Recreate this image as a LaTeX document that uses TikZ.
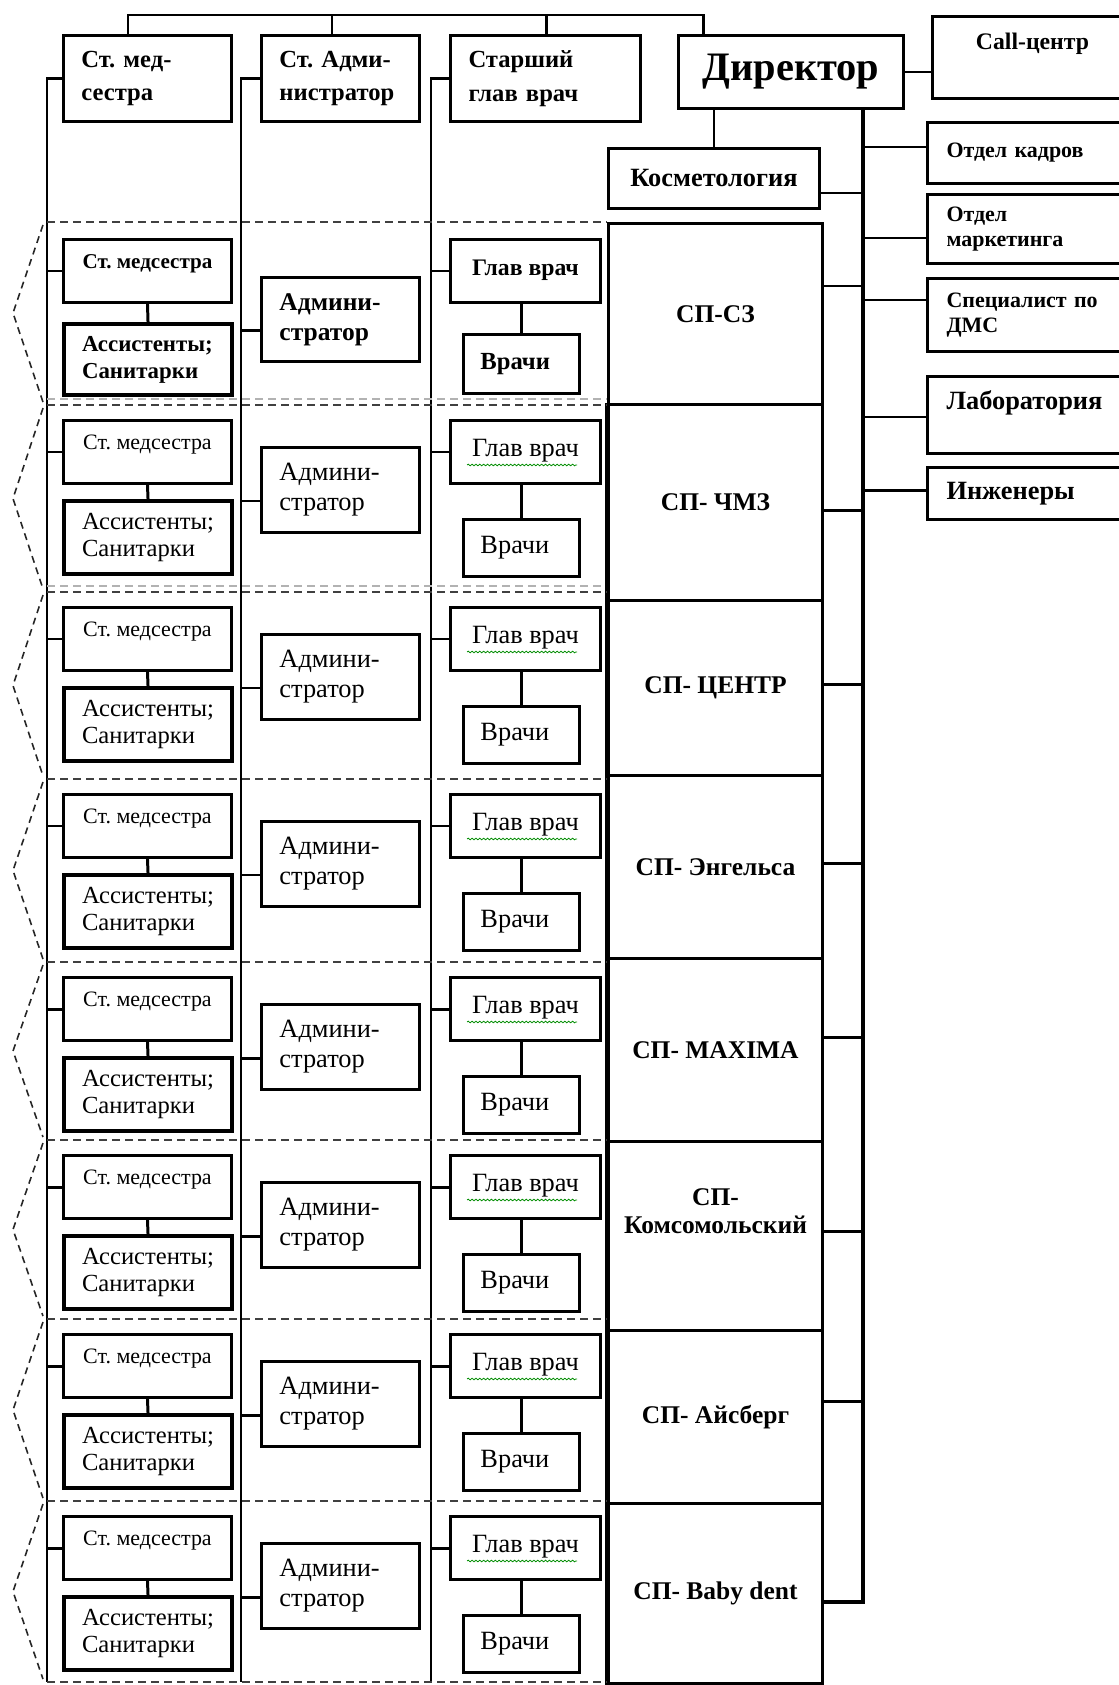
\documentclass[tikz,border=0pt]{standalone}
\usepackage{fontspec}
\setmainfont{Liberation Serif}
\usetikzlibrary{decorations.pathmorphing}
\frenchspacing

\newdimen\pxl
\pxl=0.2mm

\begin{document}
\begin{tikzpicture}[
x=0.2mm, y=-0.2mm,
box/.style={draw, line width=1.7pt, anchor=north west, inner sep=0pt},
topbox/.style={box, align=left, inner xsep=18\pxl, minimum height=86\pxl,
  font=\fontsize{14}{19}\selectfont\bfseries},
medbox/.style={box, minimum width=168\pxl, text height=29\pxl, text depth=34\pxl,
  font=\fontsize{12.5}{14}\selectfont},
asbox/.style={box, line width=2.3pt, align=left, text width=132\pxl, inner xsep=18\pxl,
  minimum height=73\pxl, font=\fontsize{14}{15.5}\selectfont},
admbox/.style={box, align=left, text width=122\pxl, inner xsep=18\pxl,
  minimum height=85\pxl, font=\fontsize{15}{17}\selectfont},
glbox/.style={box, minimum width=150\pxl, text height=36\pxl, text depth=27\pxl,
  font=\fontsize{15}{17}\selectfont},
vrbox/.style={box, align=left, text width=82\pxl, inner xsep=17\pxl,
  minimum height=57\pxl, font=\fontsize{15}{17}\selectfont},
spbox/.style={box, minimum width=214\pxl, align=center,
  font=\fontsize{14.5}{16}\selectfont\bfseries},
rbox/.style={box, align=left, text width=162\pxl, inner xsep=19\pxl,
  font=\fontsize{12.5}{14}\selectfont\bfseries},
link/.style={line width=1.7pt},
bus/.style={line width=2.2pt},
sep/.style={dash pattern=on 1.6mm off 1mm, line width=0.8pt, black!75},
seplight/.style={sep, black!30},
zig/.style={dash pattern=on 1.4mm off 1mm, line width=0.9pt, black!85},
spell/.style={draw=green!55!black, line width=0.45pt, decorate,
  decoration={snake, amplitude=0.45pt, segment length=2.2pt}}
]
\path[use as bounding box, clip] (0,0) rectangle (1119,1685);

% head of the chart
\node[topbox, text width=132\pxl] (smed) at (62,34) {Ст. мед-\\сестра};
\node[topbox, text width=122\pxl] (sadm) at (260,34) {Ст. Адми-\\нистратор};
\node[topbox, text width=154\pxl] (sglav) at (449,34) {Старший\\глав врач};
\node[box, minimum width=225\pxl, minimum height=73\pxl,
  font=\fontsize{23}{26}\selectfont\bfseries] (dir) at (677,34) {Директор};
\node[box, minimum width=200\pxl, text height=33\pxl, text depth=49\pxl,
  font=\fontsize{13.5}{15}\selectfont\bfseries] (call) at (931,15) {Call-центр};
\node[box, minimum width=211\pxl, minimum height=60\pxl,
  font=\fontsize{15}{17}\selectfont\bfseries] (kosm) at (607,147) {Косметология};

% departments on the right
\node[rbox, minimum height=61\pxl] (kadr) at (926,121) {Отдел кадров};
\node[rbox, minimum height=69\pxl] (mark) at (926,193) {Отдел\\маркетинга};
\node[rbox, minimum height=73\pxl] (dms) at (926,277) {Специалист по\\ДМС};
\node[rbox, text height=33\pxl, text depth=44\pxl,
  font=\fontsize{15}{17}\selectfont\bfseries] (lab) at (926,375) {Лаборатория};
\node[rbox, minimum height=52\pxl,
  font=\fontsize{15}{17}\selectfont\bfseries] (eng) at (926,466) {Инженеры};

\coordinate (t1) at (128,15);
\coordinate (t2) at (332,15);
\coordinate (t3) at (546,15);
\coordinate (t4) at (703,15);
\coordinate (l1) at (47,0);
\coordinate (l2) at (241,0);
\coordinate (l3) at (431,0);
\coordinate (bot) at (0,1682);
\coordinate (rbend) at (863,1602);

\draw[link] (t1 |- smed.north) -- (t1) -- (t4) -- (t4 |- dir.north);
\draw[link] (t2) -- (t2 |- sadm.north);
\draw[link] (t3) -- (t3 |- sglav.north);
\draw[link] (smed.west) -- (smed.west -| l1) -- (l1 |- bot);
\draw[link] (sadm.west) -- (sadm.west -| l2) -- (l2 |- bot);
\draw[link] (sglav.west) -- (sglav.west -| l3) -- (l3 |- bot);
\draw[link] (dir.east) -- (dir.east -| call.west);
\draw[link] (kosm.north) -- (kosm.north |- dir.south);

\foreach \b/\yy in {kadr/147, mark/238, dms/300, lab/417, eng/490}{
  \coordinate (j) at (863,\yy);
  \draw[link] (j) -- (j -| \b.west);
}
\coordinate (jk) at (863,193);
\draw[link] (jk) -- (jk -| kosm.east);

% first branch
\node[medbox, font=\fontsize{12}{14}\selectfont\bfseries] (med1) at (62,238) {Ст. медсестра};
\node[asbox, minimum height=71\pxl, font=\fontsize{13}{15.3}\selectfont\bfseries]
  (as1) at (62,322) {Ассистенты;\\Санитарки};
\node[admbox, minimum height=84\pxl, font=\fontsize{14.5}{17}\selectfont\bfseries]
  (adm1) at (260,276) {Админи-\\стратор};
\node[glbox, font=\fontsize{13.5}{15}\selectfont\bfseries] (gl1) at (449,238) {Глав врач};
\node[vrbox, minimum height=59\pxl, font=\fontsize{14}{16}\selectfont\bfseries]
  (vr1) at (462,333) {Врачи};
\node[spbox, minimum height=181\pxl] (sp1) at (607,222) {СП-СЗ};

\draw[link] (med1.west -| l1) -- (med1.west);
\draw[link] (med1.south) -- (as1.north);
\draw[link] ([yshift=-2.2mm]adm1.west) -- ([yshift=-2.2mm]adm1.west -| l2);
\draw[link] (gl1.west -| l3) -- (gl1.west);
\draw[link] (vr1.north) -- (vr1.north |- gl1.south);
\coordinate (j1) at (863,286);
\draw[link] (j1) -- (j1 -| sp1.east);

\draw[sep] (47,222) -- (607,222);
\draw[seplight] (47,399) -- (607,399);
\draw[seplight] (47,586) -- (607,586);
\draw[zig] (43,225) -- (13,313) -- (43,402);

% other branches
\foreach \n/\ty/\yn/\ya/\yb/\cy/\nm in {
  2/405/592/403/599/510/{СП- ЧМЗ},
  3/592/779/599/774/684/{СП- ЦЕНТР},
  4/779/962/774/957/863/{СП- Энгельса},
  5/962/1140/957/1140/1037/{СП- MAXIMA},
  6/1140/1319/1140/1329/1231/{СП-\\Комсомольский\rule[-10mm]{0pt}{0pt}},
  7/1319/1501/1329/1502/1401/{СП- Айсберг},
  8/1501/1682/1502/1682/1602/{СП- Baby dent}}{
  \node[medbox] (med\n) at (62,\ty+14) {Ст. медсестра};
  \node[asbox] (as\n) at (62,\ty+94) {Ассистенты;\\Санитарки};
  \node[admbox] (adm\n) at (260,\ty+41) {Админи-\\стратор};
  \node[glbox] (gl\n) at (449,\ty+14) {Глав врач};
  \node[vrbox] (vr\n) at (462,\ty+113) {Врачи};
  \node[spbox, minimum height={(\yb-\ya)*0.2mm}] (sp\n) at (607,\ya) {\nm};

  \draw[link] (med\n.west -| l1) -- (med\n.west);
  \draw[link] (med\n.south) -- (as\n.north);
  \draw[link] ([yshift=-2.2mm]adm\n.west) -- ([yshift=-2.2mm]adm\n.west -| l2);
  \draw[link] (gl\n.west -| l3) -- (gl\n.west);
  \draw[link] (vr\n.north) -- (vr\n.north |- gl\n.south);
  \draw[line width=2.8pt] (sp\n.north west) -- (sp\n.south west);
  \coordinate (j\n) at (863,\cy);
  \draw[link] (j\n) -- (j\n -| sp\n.east);

  \path[spell] ([shift={(18,-20)}]gl\n.south west) -- ++(110,0);
  \draw[sep] (47,\ty) -- (607,\ty);
  \draw[zig] (43,\ty+3) -- (13,{(\ty+\yn)/2}) -- (43,\yn-3);
}
\draw[sep] (47,1682) -- (607,1682);

% main bus on the right
\draw[bus] (dir.south -| rbend) -- (rbend) -- (rbend -| sp8.east);

\end{tikzpicture}
\end{document}
